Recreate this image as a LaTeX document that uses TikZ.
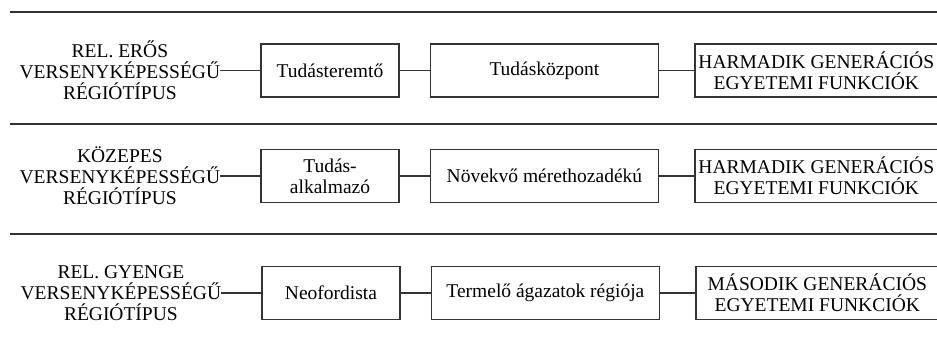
\documentclass[tikz,border=0pt]{standalone}
\usepackage{fontspec}
\setmainfont{Liberation Serif}
\usetikzlibrary{positioning}

\begin{document}
\begin{tikzpicture}[x=1pt, y=-1pt, node distance=30pt and 30pt,
	every node/.style={font=\fontsize{19.5}{21}\selectfont, align=center},
	box/.style={draw=black!80, line width=1.4pt, minimum height=53pt, inner sep=3pt},
	typ/.style={inner sep=0pt}]
	\useasboundingbox (0,0) rectangle (937,347);
	% separating rules
	\foreach \y in {12,124,234}
		\draw[line width=1.5pt, black!80] (10,\y) -- (937,\y);
	% row 1
	\node[box, minimum width=138pt] (a1) at (330,70.5) {Tudásteremtő};
	\node[box, minimum width=228pt, right =of a1] (b1) {Tudásközpont};
	\node[box, minimum width=243pt, right =35pt of b1] (c1) {HARMADIK GENERÁCIÓS\\EGYETEMI FUNKCIÓK};
	\node[typ, left =40pt of a1] (t1) {REL. ERŐS\\VERSENYKÉPESSÉGŰ\\RÉGIÓTÍPUS};
	% row 2
	\node[box, minimum width=138pt] (a2) at (330,176) {Tudás-\\alkalmazó};
	\node[box, minimum width=228pt, right =of a2] (b2) {Növekvő mérethozadékú};
	\node[box, minimum width=243pt, right =35pt of b2] (c2) {HARMADIK GENERÁCIÓS\\EGYETEMI FUNKCIÓK};
	\node[typ, left =40pt of a2] (t2) {KÖZEPES\\VERSENYKÉPESSÉGŰ\\RÉGIÓTÍPUS};
	% row 3
	\node[box, minimum width=138pt] (a3) at (331,293) {Neofordista};
	\node[box, minimum width=228pt, right =of a3] (b3) {Termelő ágazatok régiója};
	\node[box, minimum width=243pt, right =35pt of b3] (c3) {MÁSODIK GENERÁCIÓS\\EGYETEMI FUNKCIÓK};
	\node[typ, left =40pt of a3] (t3) {REL. GYENGE\\VERSENYKÉPESSÉGŰ\\RÉGIÓTÍPUS};
	\foreach \r in {1,2,3}
		\draw[line width=1.5pt, black!80] (t\r) -- (a\r) -- (b\r) -- (c\r);
\end{tikzpicture}
\end{document}
